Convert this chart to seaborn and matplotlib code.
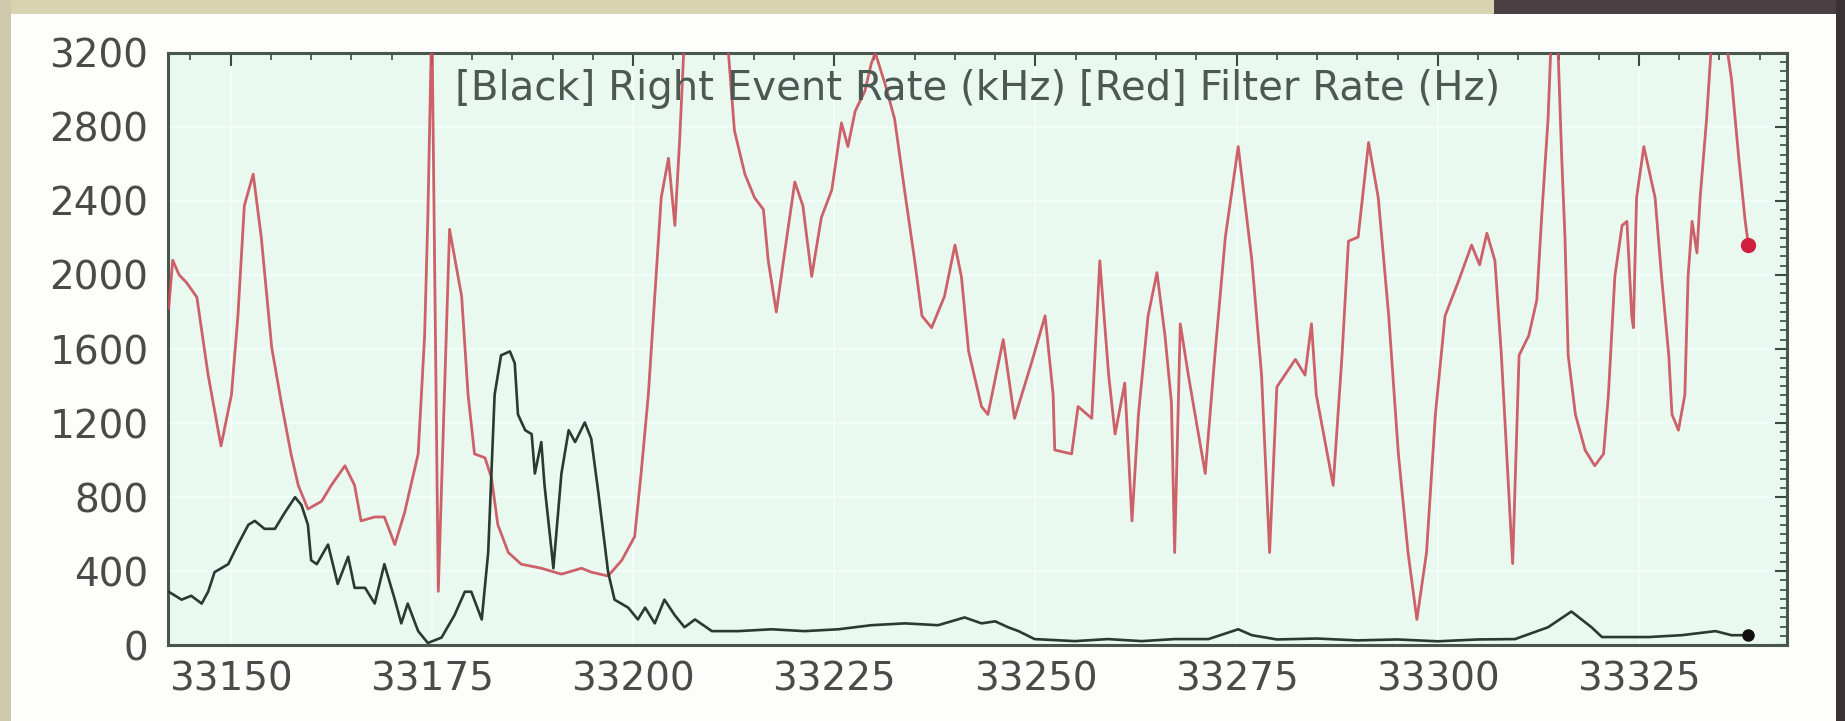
import matplotlib
matplotlib.use("Agg")
import matplotlib.pyplot as plt
import matplotlib.patches as mpatches
from matplotlib.ticker import MultipleLocator
import seaborn as sns
import pandas as pd

# ---- data ----
red_x = [33142.3, 33142.8, 33143.6, 33144.5, 33145.8, 33147.2, 33148.8, 33150.1, 33150.9, 33151.7,
         33152.8, 33153.8, 33155.1, 33156.3, 33157.5, 33158.4, 33159.6, 33161.3, 33162.5, 33164.2,
         33165.4, 33166.2, 33167.9, 33169.1, 33170.4, 33171.6, 33173.3, 33174.1, 33174.5, 33175.0,
         33175.8, 33177.2, 33178.7, 33179.5, 33180.3, 33181.6, 33182.4, 33183.2, 33184.5, 33186.1,
         33188.6, 33191.1, 33193.6, 33194.8, 33196.9, 33198.6, 33200.2, 33201.0, 33201.9, 33202.7,
         33203.5, 33204.4, 33205.2, 33205.8, 33206.5, 33211.5, 33212.6, 33213.9, 33215.1, 33216.2,
         33216.8, 33217.8, 33218.9, 33220.1, 33221.1, 33222.2, 33223.4, 33224.7, 33225.9, 33226.7,
         33227.6, 33228.8, 33229.6, 33230.1, 33231.3, 33232.5, 33233.8, 33235.0, 33235.9, 33237.1,
         33238.7, 33240.0, 33240.8, 33241.7, 33243.3, 33244.1, 33246.0, 33247.4, 33249.5, 33251.2,
         33252.2, 33252.4, 33254.5, 33255.3, 33257.0, 33258.0, 33259.1, 33259.9, 33261.1, 33262.0,
         33262.8, 33264.0, 33265.1, 33266.1, 33266.9, 33267.3, 33268.0, 33269.0, 33271.1, 33272.3,
         33273.6, 33275.2, 33276.9, 33278.1, 33279.1, 33280.0, 33282.3, 33283.5, 33284.3, 33284.9,
         33286.0, 33287.0, 33288.1, 33288.9, 33290.1, 33291.4, 33292.6, 33293.9, 33295.1, 33296.3,
         33297.4, 33298.6, 33299.7, 33300.9, 33302.6, 33304.2, 33305.2, 33306.1, 33307.1, 33307.9,
         33309.3, 33310.1, 33311.3, 33312.3, 33312.9, 33313.7, 33314.2, 33314.8, 33315.4, 33315.8,
         33316.2, 33317.1, 33318.3, 33319.5, 33320.6, 33321.2, 33322.0, 33322.9, 33323.5, 33324.1,
         33324.3, 33324.7, 33325.6, 33327.0, 33327.8, 33328.7, 33329.1, 33329.9, 33330.7, 33331.1,
         33331.6, 33332.2, 33332.6, 33333.4, 33334.0, 33335.7, 33336.5, 33337.4, 33338.2, 33338.6]
red_y = [1820, 2080, 2000, 1960, 1880, 1460, 1076, 1353, 1779, 2375,
         2545, 2205, 1608, 1310, 1033, 863, 735, 777, 863, 969,
         863, 671, 692, 692, 543, 714, 1033, 1672, 2311, 3400,
         290, 2247, 1885, 1353, 1033, 1012, 905, 650, 500, 437,
         415, 383, 415, 394, 373, 458, 586, 927, 1353, 1885,
         2418, 2631, 2268, 2737, 3400, 3400, 2780, 2545, 2418, 2354,
         2077, 1800, 2141, 2503, 2375, 1992, 2311, 2460, 2822, 2694,
         2886, 2993, 3142, 3200, 3035, 2844, 2439, 2077, 1779, 1715,
         1885, 2162, 1992, 1587, 1289, 1246, 1651, 1225, 1523, 1779,
         1353, 1054, 1033, 1289, 1225, 2077, 1459, 1140, 1416, 671,
         1246, 1779, 2013, 1672, 1310, 500, 1736, 1459, 927, 1566,
         2205, 2694, 2077, 1459, 500, 1395, 1544, 1459, 1736, 1353,
         1097, 863, 1566, 2183, 2205, 2716, 2418, 1779, 1033, 500,
         138, 500, 1246, 1779, 1970, 2162, 2055, 2226, 2077, 1566,
         440, 1566, 1672, 1864, 2311, 2844, 3400, 3400, 2631, 2205,
         1566, 1246, 1054, 969, 1033, 1353, 1992, 2268, 2290, 1779,
         1715, 2418, 2694, 2418, 1992, 1566, 1246, 1161, 1353, 1992,
         2290, 2119, 2418, 2844, 3250, 3300, 3057, 2631, 2290, 2162]

black_x = [33142.3, 33143.9, 33145.1, 33146.4, 33147.2, 33148.0, 33149.7, 33150.9, 33152.2, 33153.0,
           33154.2, 33155.5, 33156.7, 33158.0, 33158.8, 33159.6, 33160.0, 33160.7, 33162.1, 33163.3,
           33164.6, 33165.4, 33166.7, 33167.9, 33169.1, 33170.4, 33171.2, 33172.0, 33173.3, 33174.5,
           33176.2, 33177.8, 33179.1, 33179.9, 33181.2, 33182.0, 33182.4, 33182.8, 33183.6, 33184.7,
           33185.3, 33185.7, 33186.6, 33187.4, 33187.8, 33188.6, 33189.0, 33189.9, 33190.1, 33191.1,
           33192.0, 33192.8, 33194.0, 33194.8, 33195.7, 33196.9, 33197.7, 33199.4, 33200.6, 33201.5,
           33202.7, 33203.9, 33205.2, 33206.4, 33207.7, 33209.8, 33213.1, 33217.2, 33221.3, 33225.5,
           33229.6, 33233.8, 33237.9, 33241.2, 33243.3, 33245.0, 33246.6, 33247.9, 33249.9, 33254.9,
           33259.0, 33263.2, 33267.3, 33271.5, 33275.2, 33276.9, 33280.0, 33285.0, 33290.0, 33295.0,
           33300.0, 33305.0, 33309.6, 33313.7, 33316.6, 33319.1, 33320.4, 33326.2, 33330.3, 33334.5,
           33336.5, 33338.6]
black_y = [288, 245, 266, 224, 288, 394, 437, 543, 650, 671,
           628, 628, 714, 799, 756, 650, 458, 437, 543, 330,
           477, 309, 309, 224, 437, 245, 117, 224, 75, 11,
           40, 160, 288, 288, 138, 500, 927, 1353, 1566, 1587,
           1523, 1246, 1161, 1140, 927, 1097, 863, 500, 415, 927,
           1161, 1097, 1203, 1116, 820, 394, 245, 202, 138, 202,
           117, 245, 160, 96, 138, 75, 75, 85, 75, 85,
           107, 117, 107, 149, 117, 128, 96, 75, 32, 21,
           32, 21, 32, 32, 85, 53, 30, 35, 25, 30,
           20, 30, 32, 96, 181, 96, 43, 43, 53, 75,
           53, 53]

title_text = "[Black] Right Event Rate (kHz) [Red] Filter Rate (Hz)"
x_ticks = [33150, 33175, 33200, 33225, 33250, 33275, 33300, 33325]
y_ticks = [0, 400, 800, 1200, 1600, 2000, 2400, 2800, 3200]

red_df = pd.DataFrame({"x": red_x, "y": red_y})
black_df = pd.DataFrame({"x": black_x, "y": black_y})

sns.set_theme(style="white")
plt.rcParams["font.family"] = ["DejaVu Sans"]

fig = plt.figure(figsize=(18.45, 7.21), dpi=100)
fig.patch.set_facecolor("#fdfdfb")
# photo surroundings
fig.patches.append(mpatches.Rectangle((0, 0.981), 0.81, 0.019, transform=fig.transFigure,
                                      facecolor="#d9d3b2", edgecolor="none", zorder=0))
fig.patches.append(mpatches.Rectangle((0.81, 0.981), 0.19, 0.019, transform=fig.transFigure,
                                      facecolor="#4a4044", edgecolor="none", zorder=0))
fig.patches.append(mpatches.Rectangle((0, 0), 0.006, 1, transform=fig.transFigure,
                                      facecolor="#cfc8ac", edgecolor="none", zorder=0))
fig.patches.append(mpatches.Rectangle((0.995, 0), 0.005, 1, transform=fig.transFigure,
                                      facecolor="#3b3236", edgecolor="none", zorder=0))

ax = fig.add_axes([0.091, 0.1054, 0.8776, 0.8211])
ax.set_facecolor("#eaf9ef")

ax.grid(True, which="major", color="#f6fff9", linewidth=1.2)

sns.lineplot(data=red_df, x="x", y="y", ax=ax, color="#c9505b", linewidth=2.0,
             estimator=None, sort=False, alpha=0.9, zorder=3)
sns.lineplot(data=black_df, x="x", y="y", ax=ax, color="#2b3a31", linewidth=1.9,
             estimator=None, sort=False, zorder=4)

# end markers
ax.plot(red_x[-1], red_y[-1], "o", color="#d02040", markersize=10, zorder=5)
ax.plot(black_x[-1], black_y[-1], "o", color="#101010", markersize=8, zorder=5)

ax.set_xlim(33142.2, 33343.4)
ax.set_ylim(0, 3200)
ax.set_xticks(x_ticks)
ax.set_yticks(y_ticks)
ax.xaxis.set_minor_locator(MultipleLocator(5))
ax.yaxis.set_minor_locator(MultipleLocator(50))
ax.set_xlabel("")
ax.set_ylabel("")

ax.tick_params(axis="both", which="major", direction="in", length=9, width=1.5,
               colors="#3c4a40", labelcolor="#4a4a4a", labelsize=28,
               top=True, right=True)
ax.tick_params(axis="x", which="major", pad=11)
ax.tick_params(axis="y", which="major", pad=14)
ax.tick_params(axis="both", which="minor", direction="in", length=5, width=1.2,
               colors="#3c4a40", top=True, right=True)

for s in ax.spines.values():
    s.set_color("#48564c")
    s.set_linewidth(2.2)

ax.text(0.5, 0.94, title_text, transform=ax.transAxes, ha="center", va="center",
        fontsize=29, color="#4d5852", zorder=6)

fig.savefig("out.png", dpi=100, facecolor=fig.get_facecolor())
